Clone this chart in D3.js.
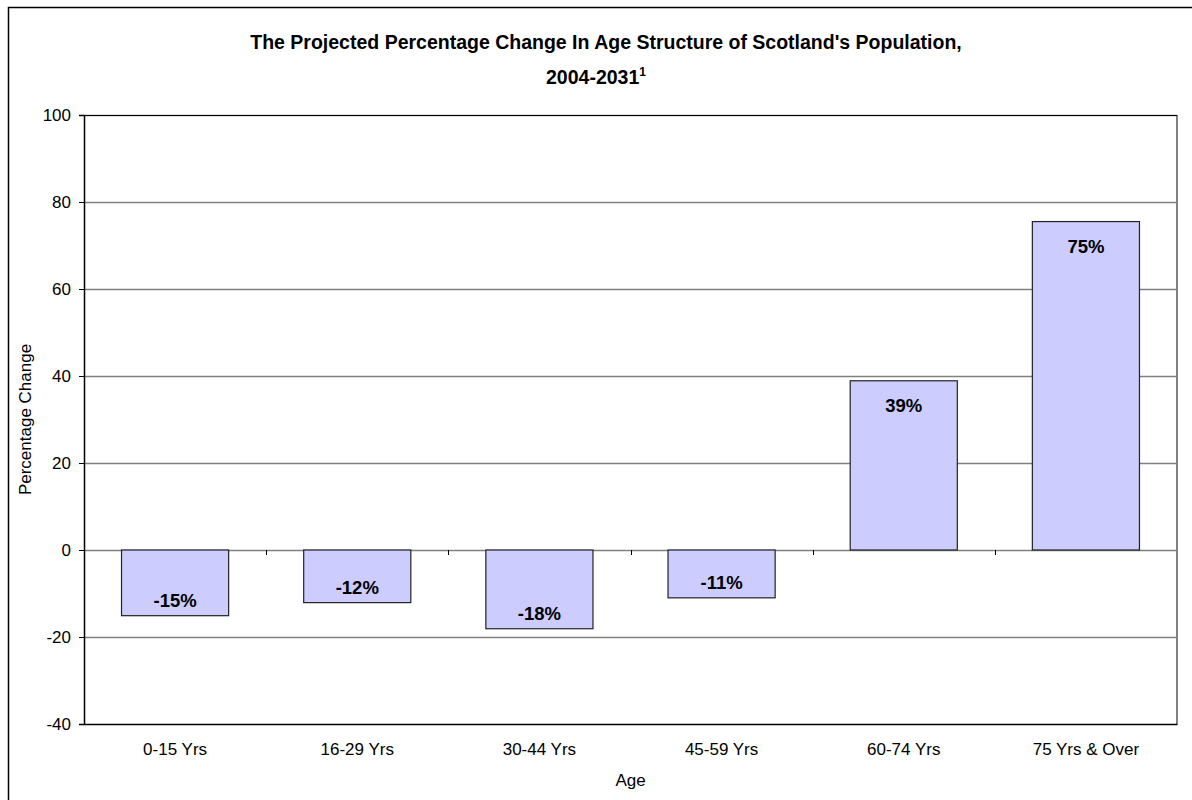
<!DOCTYPE html>
<html><head><meta charset="utf-8">
<script src="https://cdn.jsdelivr.net/npm/d3@7"></script>
<style>body{margin:0;background:#fff}svg{display:block;font-family:Arial,"Liberation Sans",sans-serif}</style>
</head><body>
<svg id="c" width="1192" height="800"></svg>
<script>
const categories = ["0-15 Yrs","16-29 Yrs","30-44 Yrs","45-59 Yrs","60-74 Yrs","75 Yrs & Over"];
const values = [-15.1, -12.1, -18.1, -11.0, 38.9, 75.5];
const labels = ["-15%","-12%","-18%","-11%","39%","75%"];
const yTicks = [-40,-20,0,20,40,60,80,100];

const FONT = "Arial,'Liberation Sans',sans-serif";
const svg = d3.select("#c");
const L = 84, R = 1177, T = 115, B = 724;

svg.append("rect").attr("x",8.5).attr("y",7.5).attr("width",1200).attr("height",800)
  .attr("fill","#fff").attr("stroke","#000").attr("stroke-width",1.5);

const x = d3.scaleBand().domain(categories).range([L,R]).paddingInner(0.412).paddingOuter(0.206);
const xb = d3.scaleBand().domain(categories).range([L,R]);
const y = d3.scaleLinear().domain([-40,100]).range([B,T]);

// gridlines
svg.append("g").selectAll("line").data(yTicks.filter(d=>d!==-40)).join("line")
  .attr("x1",L).attr("x2",R).attr("y1",d=>Math.round(y(d))+0.5).attr("y2",d=>Math.round(y(d))+0.5)
  .attr("stroke","#808080").attr("stroke-width",1.3);

// bars
svg.append("g").selectAll("rect").data(values).join("rect")
  .attr("x",(d,i)=>x(categories[i]))
  .attr("width",x.bandwidth())
  .attr("y",d=>y(Math.max(0,d)))
  .attr("height",d=>Math.abs(y(d)-y(0)))
  .attr("fill","#CCCCFF").attr("stroke","#222").attr("stroke-width",1.2);

// category ticks along zero line
svg.append("g").selectAll("line").data(categories.slice(1)).join("line")
  .attr("x1",d=>Math.round(xb(d))+0.5).attr("x2",d=>Math.round(xb(d))+0.5)
  .attr("y1",y(0)).attr("y2",y(0)+5).attr("stroke","#000");

// plot frame
svg.append("line").attr("x1",R).attr("x2",R).attr("y1",T).attr("y2",B).attr("stroke","#808080").attr("stroke-width",2);
svg.append("line").attr("x1",L).attr("x2",R).attr("y1",T+0.5).attr("y2",T+0.5).attr("stroke","#000").attr("stroke-width",1);

// y axis
const yAxis = d3.axisLeft(y).tickValues(yTicks).tickSize(5).tickPadding(8).tickFormat(d=>String(d));
const ga = svg.append("g").attr("transform",`translate(${L},0)`).call(yAxis);
ga.attr("font-family",FONT).attr("font-size",17);
ga.select(".domain").attr("stroke","#000").attr("stroke-width",1.5);
ga.selectAll(".tick line").attr("stroke","#000");
ga.selectAll("text").attr("fill","#000").attr("dy","0.35em");

// x axis (bottom)
const xAxis = d3.axisBottom(xb).tickSize(0).tickPadding(0);
const gx = svg.append("g").attr("transform",`translate(0,${B})`).call(xAxis);
gx.attr("font-family",FONT).attr("font-size",17);
gx.select(".domain").attr("stroke","#000").attr("stroke-width",1.5);
gx.selectAll("text").attr("fill","#000").attr("dy",0).attr("y",31);

// data labels
svg.append("g").selectAll("text").data(values).join("text")
  .attr("x",(d,i)=>x(categories[i])+x.bandwidth()/2)
  .attr("y",d=> d>=0 ? y(d)+31 : y(d)-9)
  .attr("text-anchor","middle").attr("font-weight","bold").attr("font-size",18.5)
  .text((d,i)=>labels[i]);

// titles
svg.append("text").attr("x",606).attr("y",49).attr("text-anchor","middle")
  .attr("font-weight","bold").attr("font-size",19.5)
  .text("The Projected Percentage Change In Age Structure of Scotland's Population,");
const t2 = svg.append("text").attr("x",596).attr("y",84).attr("text-anchor","middle")
  .attr("font-weight","bold").attr("font-size",19.5);
t2.append("tspan").text("2004-2031");
t2.append("tspan").attr("dy",-8).attr("font-size",12).text("1");

svg.append("text").attr("x",(L+R)/2).attr("y",786).attr("text-anchor","middle").attr("font-size",17).text("Age");
svg.append("text").attr("transform",`translate(31,${(T+B)/2}) rotate(-90)`).attr("text-anchor","middle")
  .attr("font-size",17).text("Percentage Change");
</script>
</body></html>
